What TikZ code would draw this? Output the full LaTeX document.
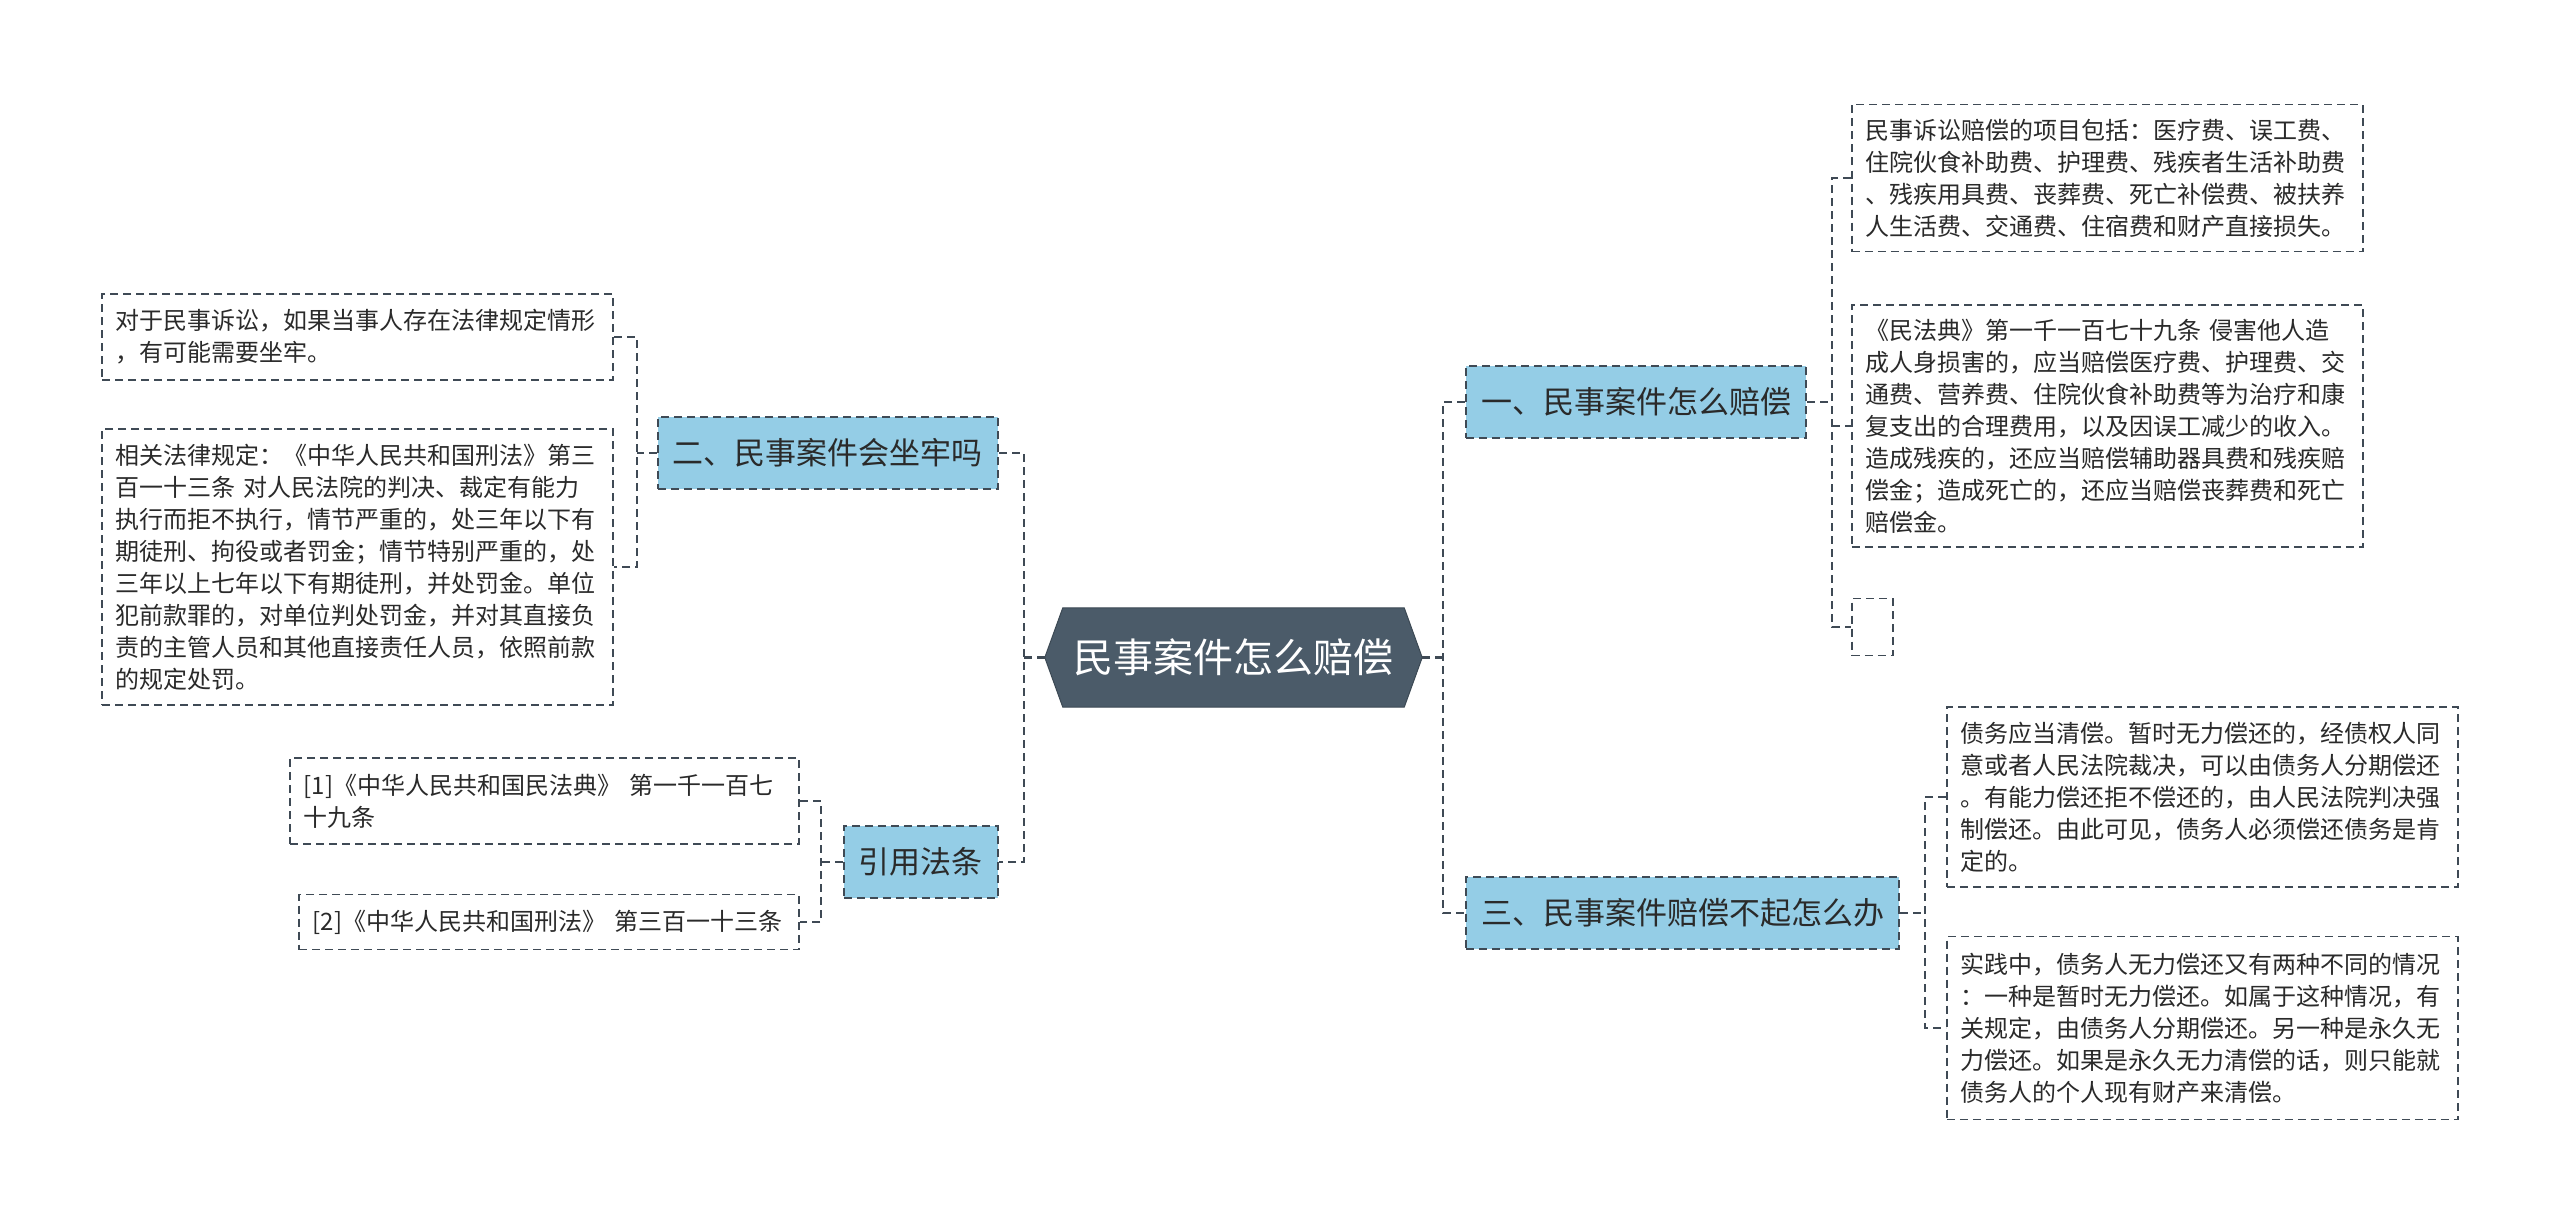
\documentclass[tikz,border=0pt]{standalone}
\usepackage{fontspec}
\setmainfont{Noto Sans CJK SC}
\usetikzlibrary{backgrounds,calc}
\definecolor{linec}{HTML}{3F4A55}
\definecolor{rootc}{HTML}{4B5B69}
\definecolor{topicc}{HTML}{94CDE6}
\definecolor{textc}{HTML}{2A2A2A}
\begin{document}
\begin{tikzpicture}[x=1pt,y=-1pt,
  conn/.style={draw=linec, line width=2.2pt, dash pattern=on 8pt off 5pt},
  topic/.style={draw=linec, line width=2.2pt, dash pattern=on 8pt off 5pt, fill=topicc, text=textc,
    font=\fontsize{31}{36}\selectfont, inner xsep=15pt, inner ysep=0pt, minimum height=72pt},
  leaf/.style={draw=linec, line width=1.8pt, dash pattern=on 8pt off 5pt, text=textc,
    font=\fontsize{24}{32}\selectfont, align=left, inner xsep=13.5pt, inner ysep=0pt},
]
\useasboundingbox (0,0) rectangle (2560,1223);

% root
\node[font=\fontsize{40}{48}\selectfont, text=white, minimum width=377pt, minimum height=99pt, inner sep=0pt] (root) at (1233.5,657.5) {民事案件怎么赔偿};

% topics
\node[topic, anchor=west] (t1) at (1465,402) {一、民事案件怎么赔偿};
\node[topic, anchor=west] (t3) at (1465,913) {三、民事案件赔偿不起怎么办};
\node[topic, anchor=east] (t2) at (999,453) {二、民事案件会坐牢吗};
\node[topic, anchor=east] (t4) at (999,862) {引用法条};

% leaves right
\node[leaf, anchor=west, text width=484pt, minimum height=147pt] (r1) at (1851,178) {民事诉讼赔偿的项目包括：医疗费、误工费、\\住院伙食补助费、护理费、残疾者生活补助费\\、残疾用具费、丧葬费、死亡补偿费、被扶养\\人生活费、交通费、住宿费和财产直接损失。};
\node[leaf, anchor=west, text width=484pt, minimum height=242pt] (r2) at (1851,426) {《民法典》第一千一百七十九条~侵害他人造\\成人身损害的，应当赔偿医疗费、护理费、交\\通费、营养费、住院伙食补助费等为治疗和康\\复支出的合理费用，以及因误工减少的收入。\\造成残疾的，还应当赔偿辅助器具费和残疾赔\\偿金；造成死亡的，还应当赔偿丧葬费和死亡\\赔偿金。};
\node[leaf, anchor=west, minimum width=41pt, minimum height=57pt, inner sep=0pt] (r3) at (1851,627) {};
\node[leaf, anchor=west, text width=484pt, minimum height=180pt] (c1) at (1946,797) {债务应当清偿。暂时无力偿还的，经债权人同\\意或者人民法院裁决，可以由债务人分期偿还\\。有能力偿还拒不偿还的，由人民法院判决强\\制偿还。由此可见，债务人必须偿还债务是肯\\定的。};
\node[leaf, anchor=west, text width=484pt, minimum height=183pt] (c2) at (1946,1028) {实践中，债务人无力偿还又有两种不同的情况\\：一种是暂时无力偿还。如属于这种情况，有\\关规定，由债务人分期偿还。另一种是永久无\\力偿还。如果是永久无力清偿的话，则只能就\\债务人的个人现有财产来清偿。};

% leaves left
\node[leaf, anchor=east, text width=484pt, minimum height=86pt] (l1) at (614,337) {对于民事诉讼，如果当事人存在法律规定情形\\，有可能需要坐牢。};
\node[leaf, anchor=east, text width=484pt, minimum height=276pt] (l2) at (614,567) {相关法律规定：《中华人民共和国刑法》第三\\百一十三条~对人民法院的判决、裁定有能力\\执行而拒不执行，情节严重的，处三年以下有\\期徒刑、拘役或者罚金；情节特别严重的，处\\三年以上七年以下有期徒刑，并处罚金。单位\\犯前款罪的，对单位判处罚金，并对其直接负\\责的主管人员和其他直接责任人员，依照前款\\的规定处罚。};
\node[leaf, anchor=east, text width=482pt, minimum height=86pt] (f1) at (800,801) {[1]《中华人民共和国民法典》~第一千一百七\\十九条};
\node[leaf, anchor=east, text width=473pt, minimum height=55pt] (f2) at (800,922) {[2]《中华人民共和国刑法》~第三百一十三条};

% junctions
\coordinate (jR) at (1443,657.5);
\coordinate (jL) at (1024,657.5);
\coordinate (jA) at (1832,402);
\coordinate (jD) at (1925,913);
\coordinate (jB) at (637,453);
\coordinate (jC) at (821,862);

% connectors
\draw[conn] (root.east) -- (jR);
\draw[conn] (t1.west) -| (jR) |- (t3.west);
\draw[conn] (root.west) -- (jL);
\draw[conn] (t2.east) -| (jL) |- (t4.east);
\draw[conn] (t1.east) -- (jA);
\draw[conn] (r1.west) -| (jA) |- (r3.west);
\draw[conn] (jA |- r2.west) -- (r2.west);
\draw[conn] (t3.east) -- (jD);
\draw[conn] (c1.west) -| (jD) |- (c2.west);
\draw[conn] (t2.west) -- (jB);
\draw[conn] (l1.east) -| (jB) |- (l2.east);
\draw[conn] (t4.west) -- (jC);
\draw[conn] (f1.east) -| (jC) |- (f2.east);

\begin{scope}[on background layer]
\fill[white] (0,0) rectangle (2560,1223);
\filldraw[fill=rootc, draw=rootc!80!black, line width=1pt] (root.west) -- ($(root.north west)+(18,0)$) -- ($(root.north east)+(-18,0)$) -- (root.east) -- ($(root.south east)+(-18,0)$) -- ($(root.south west)+(18,0)$) -- cycle;
\end{scope}
\end{tikzpicture}
\end{document}
